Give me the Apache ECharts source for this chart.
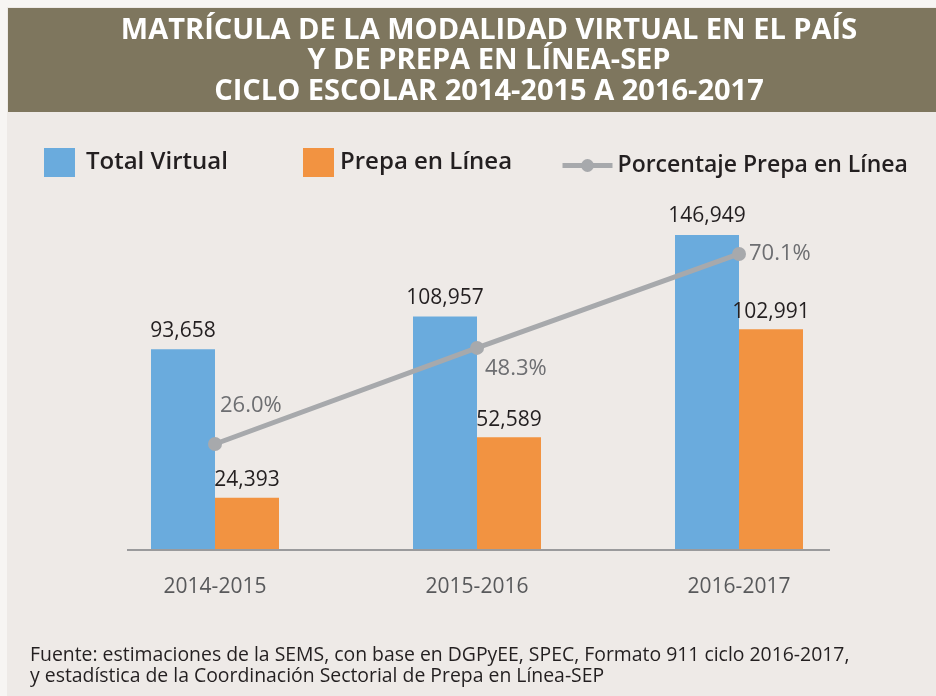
<!DOCTYPE html>
<html>
<head>
<meta charset="utf-8">
<script src="https://cdn.jsdelivr.net/npm/echarts@6/dist/echarts.min.js"></script>
<style>
  html, body { margin: 0; padding: 0; background: #f7f5f3; }
  #main { width: 936px; height: 696px; }
</style>
</head>
<body>
<div id="main"></div>
<script>
// 数据
const ciclos = ['2014-2015', '2015-2016', '2016-2017'];
const totalVirtual = [93658, 108957, 146949];
const prepaEnLinea = [24393, 52589, 102991];
const porcentaje = [26.0, 48.3, 70.1];

const seriesNames = ['Total Virtual', 'Prepa en Línea', 'Porcentaje Prepa en Línea'];
const titulo = 'MATRÍCULA DE LA MODALIDAD VIRTUAL EN EL PAÍS\nY DE PREPA EN LÍNEA-SEP\nCICLO ESCOLAR 2014-2015 A 2016-2017';
const fuente = 'Fuente: estimaciones de la SEMS, con base en DGPyEE, SPEC, Formato 911 ciclo 2016-2017,\ny estadística de la Coordinación Sectorial de Prepa en Línea-SEP';

const FONT = "'Open Sans', 'Noto Sans', sans-serif";
// 百分比标签的偏移
const pctOffsets = [[-2, -38], [1, 21], [3, 0]];

const chart = echarts.init(document.getElementById('main'));

const legendText = { fontSize: 24, fontWeight: 600, color: '#231f20', fontFamily: FONT };

chart.setOption({
  backgroundColor: '#eeeae7',
  animation: false,
  title: [
    {
      text: titulo,
      left: 484,
      top: 10,
      textAlign: 'center',
      textStyle: { color: '#ffffff', fontSize: 29, fontWeight: 'bold', lineHeight: 30.5, fontFamily: FONT }
    },
    {
      text: fuente,
      left: 30,
      top: 645,
      padding: 0,
      textStyle: { color: '#231f20', fontSize: 19.4, fontWeight: 'normal', lineHeight: 21, fontFamily: FONT }
    }
  ],
  graphic: [
    { type: 'rect', shape: { x: 0, y: 0, width: 7, height: 696 }, style: { fill: '#f7f5f3' }, silent: true },
    { type: 'rect', shape: { x: 0, y: 0, width: 936, height: 7 }, style: { fill: '#f7f5f3' }, silent: true },
    { type: 'rect', shape: { x: 8, y: 8, width: 928, height: 104 }, style: { fill: '#7e765e' }, silent: true, z: -1 },
    { type: 'line', shape: { x1: 127, y1: 550, x2: 830, y2: 550 }, style: { stroke: '#9a9a9c', lineWidth: 2 }, silent: true, z: 10 }
  ],
  legend: [
    {
      data: [seriesNames[0]], left: 39, top: 143, itemWidth: 31, itemHeight: 29, icon: 'rect',
      textStyle: Object.assign({ padding: [5, 0, 0, 6] }, legendText)
    },
    {
      data: [seriesNames[1]], left: 298, top: 143, itemWidth: 31, itemHeight: 29, icon: 'rect',
      textStyle: Object.assign({ padding: [5, 0, 0, 1] }, legendText)
    },
    {
      data: [seriesNames[2]], left: 555, top: 149, itemWidth: 50, itemHeight: 16,
      lineStyle: { width: 5, color: '#a7a9ac' },
      textStyle: Object.assign({ padding: [5, 0, 0, 0] }, legendText, { fontSize: 23 })
    }
  ],
  grid: { left: 84, right: 66, top: 207, bottom: 146 },
  xAxis: {
    type: 'category',
    data: ciclos,
    axisLine: { show: false },
    axisTick: { show: false },
    axisLabel: { color: '#58595b', fontSize: 21, margin: 27, fontFamily: FONT }
  },
  yAxis: [
    { type: 'value', min: 0, max: 160000, show: false, splitLine: { show: false } },
    { type: 'value', min: 1.4, max: 81, show: false, splitLine: { show: false } }
  ],
  series: [
    {
      name: seriesNames[0],
      type: 'bar',
      data: totalVirtual,
      barWidth: 64,
      barGap: '0%',
      itemStyle: { color: '#6aabdd' },
      label: {
        show: true, position: 'top', distance: 8,
        color: '#231f20', fontSize: 21, fontFamily: FONT,
        formatter: p => p.value.toLocaleString('en-US')
      }
    },
    {
      name: seriesNames[1],
      type: 'bar',
      data: prepaEnLinea,
      barWidth: 64,
      itemStyle: { color: '#f29341' },
      label: {
        show: true, position: 'top', distance: 7,
        color: '#231f20', fontSize: 21, fontFamily: FONT,
        formatter: p => p.value.toLocaleString('en-US')
      }
    },
    {
      name: seriesNames[2],
      type: 'line',
      yAxisIndex: 1,
      z: 5,
      data: porcentaje.map((v, i) => ({
        value: v,
        label: { offset: pctOffsets[i] }
      })),
      symbol: 'circle',
      symbolSize: 14,
      lineStyle: { color: '#a7a9ac', width: 5 },
      itemStyle: { color: '#a7a9ac' },
      label: {
        show: true, position: 'right', distance: 0,
        color: '#6d6e71', fontSize: 22, fontFamily: FONT,
        formatter: p => p.value.toFixed(1) + '%'
      }
    }
  ]
});
</script>
</body>
</html>
